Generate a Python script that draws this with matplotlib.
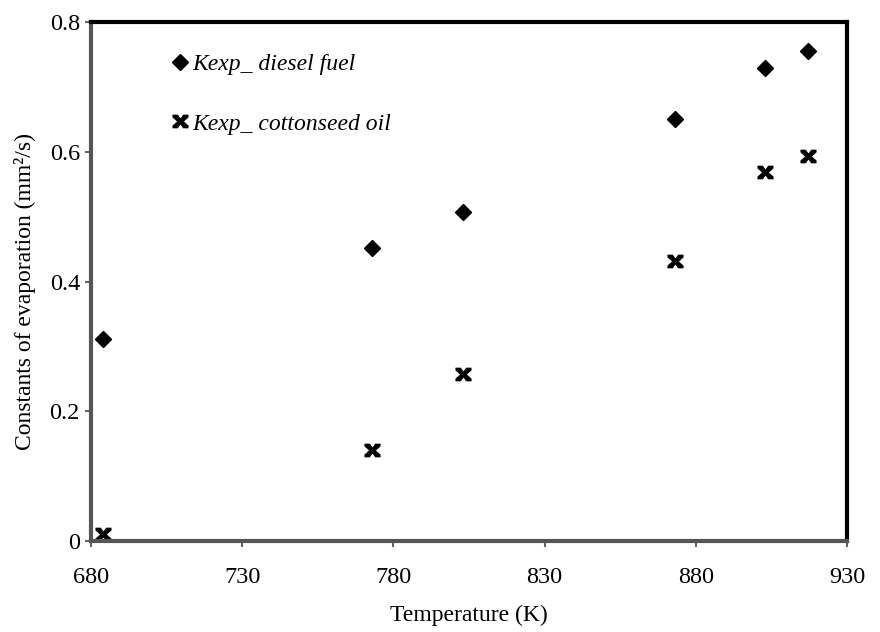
import matplotlib
matplotlib.use("Agg")
import matplotlib.pyplot as plt
from matplotlib.path import Path

temperature_diesel = [684, 773, 803, 873, 903, 917]
k_diesel = [0.311, 0.452, 0.508, 0.650, 0.729, 0.756]
temperature_cotton = [684, 773, 803, 873, 903, 917]
k_cotton = [0.011, 0.141, 0.258, 0.432, 0.569, 0.594]
x_ticks = [680, 730, 780, 830, 880, 930]
y_ticks = [0, 0.2, 0.4, 0.6, 0.8]
y_tick_labels = ["0", "0.2", "0.4", "0.6", "0.8"]
label_diesel = "Kexp_ diesel fuel"
label_cotton = "Kexp_ cottonseed oil"

plt.rcParams['font.family'] = ['Liberation Serif', 'DejaVu Serif']

star_verts = [(-1, 0.85), (-0.38, 0.85), (0, 0.32), (0.38, 0.85), (1, 0.85), (1, 0.55),
              (0.38, 0), (1, -0.55), (1, -0.85), (0.38, -0.85), (0, -0.32), (-0.38, -0.85),
              (-1, -0.85), (-1, -0.55), (-0.38, 0), (-1, 0.55), (-1, 0.85)]
star = Path(star_verts, [Path.MOVETO] + [Path.LINETO] * (len(star_verts) - 2) + [Path.CLOSEPOLY])

fig = plt.figure(figsize=(8.8, 6.32), dpi=100)
ax = fig.add_axes([0.1034, 0.144, 0.859, 0.821])

ax.plot(temperature_diesel, k_diesel, linestyle='none', marker='D', markersize=8.5,
        color='black', label=label_diesel)
ax.plot(temperature_cotton, k_cotton, linestyle='none', marker=star, markersize=11,
        markeredgewidth=0.5, color='black', label=label_cotton)

ax.set_xlim(680, 930)
ax.set_ylim(0, 0.8)
ax.set_xticks(x_ticks)
ax.set_yticks(y_ticks)
ax.set_yticklabels(y_tick_labels)
ax.tick_params(axis='both', direction='out', length=4, width=1.5, color='#666666',
               labelsize=17.5, pad=4)
ax.tick_params(axis='x', pad=15)

for side in ['left', 'bottom']:
    ax.spines[side].set_color('#555555')
    ax.spines[side].set_linewidth(3)
for side in ['top', 'right']:
    ax.spines[side].set_color('black')
    ax.spines[side].set_linewidth(3)

ax.set_xlabel("Temperature (K)", fontsize=17, labelpad=12)
ax.set_ylabel("Constants of evaporation (mm²/s)", fontsize=17)
ax.yaxis.set_label_coords(-0.073, 0.48)

leg = ax.legend(loc='upper left', bbox_to_anchor=(0.098, 0.958), frameon=False,
                prop={'family': 'Liberation Serif', 'style': 'italic', 'size': 17},
                handlelength=0.5, handletextpad=0.25, labelspacing=1.62, borderaxespad=0)

fig.savefig("out.png", dpi=100)
